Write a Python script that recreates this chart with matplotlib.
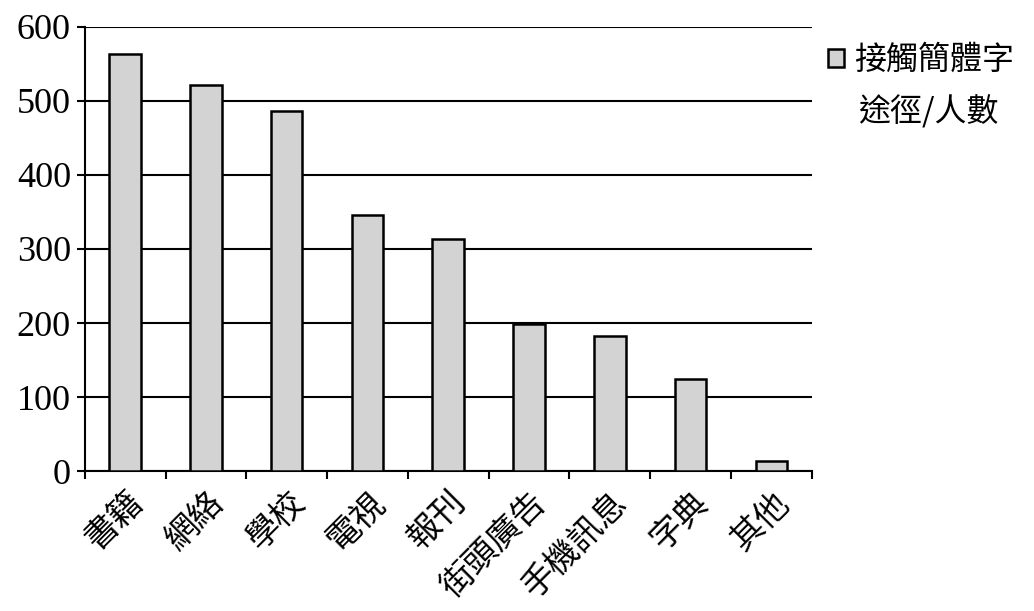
import matplotlib
matplotlib.use("Agg")
import matplotlib.pyplot as plt
import numpy as np

# data
categories = ["書籍", "網絡", "學校", "電視", "報刊", "街頭廣告", "手機訊息", "字典", "其他"]
counts = [564, 522, 487, 346, 314, 198, 183, 125, 13]
series_name = "接觸簡體字"
series_name_2 = "途徑/人數"

plt.rcParams['font.family'] = ['Liberation Serif', 'Noto Sans CJK TC']

fig = plt.figure(figsize=(10.34, 6.11), dpi=100)
ax = fig.add_axes([0.082, 0.229, 0.703, 0.727])

x = np.arange(len(categories))
ax.bar(x, counts, width=0.39, color='#d3d3d3', edgecolor='black', linewidth=1.8,
       label=series_name, zorder=3)

ax.set_ylim(0, 600)
ax.set_xlim(-0.5, len(categories) - 0.5)
ax.set_yticks(range(0, 601, 100))
ax.yaxis.grid(True, color='black', linewidth=1.5, zorder=0)
ax.tick_params(axis='y', labelsize=26, length=6, width=1.5, direction='out', pad=4)

# category ticks sit between the bars
ax.set_xticks(x)
ax.set_xticklabels(categories, rotation=45, ha='right', rotation_mode='anchor',
                   fontsize=24, family=['Noto Sans CJK TC'])
ax.tick_params(axis='x', which='major', length=0, pad=10)
ax.set_xticks(np.arange(-0.5, len(categories), 1.0), minor=True)
ax.tick_params(axis='x', which='minor', length=6, width=1.5, direction='out')

for s in ['top', 'right']:
    ax.spines[s].set_visible(False)
for s in ['left', 'bottom']:
    ax.spines[s].set_linewidth(1.5)

leg = ax.legend(loc='upper left', bbox_to_anchor=(1.005, 0.99), frameon=False,
                prop={'family': 'Noto Sans CJK TC', 'size': 23},
                handlelength=0.5, handleheight=0.5, handletextpad=0.3,
                borderaxespad=0)
fig.text(858 / 1034, 1 - 112 / 611, series_name_2, fontsize=23,
         family=['Noto Sans CJK TC'], va='center', ha='left')

fig.savefig("out.png", dpi=100)
